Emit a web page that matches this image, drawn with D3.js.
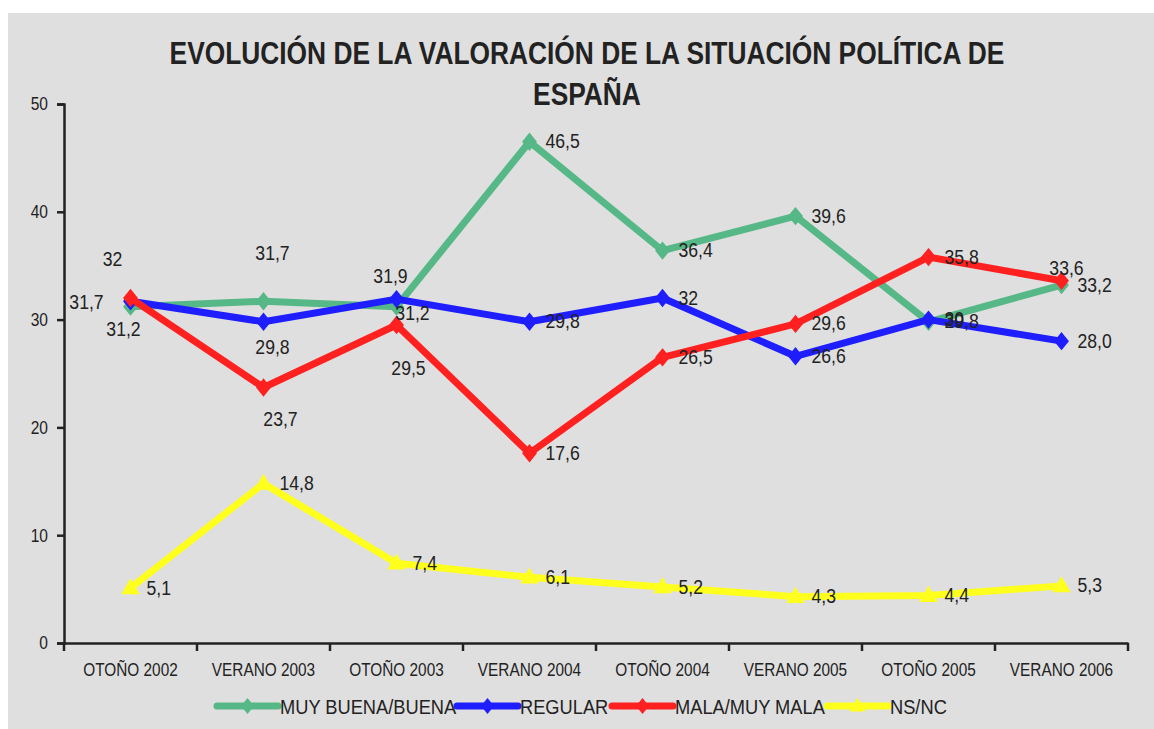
<!DOCTYPE html>
<html lang="es">
<head>
<meta charset="UTF-8">
<title>Evolución de la valoración de la situación política de España</title>
<script src="https://cdnjs.cloudflare.com/ajax/libs/d3/7.8.5/d3.min.js"></script>
<style>
  html, body { margin: 0; padding: 0; background: #fff; }
  svg { display: block; }
  text { font-family: 'Liberation Sans', Arial, sans-serif; fill: #222; }
</style>
</head>
<body>
<svg id="chart" width="1154" height="729"></svg>
<script>
// datos (tal como se imprimen las etiquetas)
const categories = ['OTOÑO 2002', 'VERANO 2003', 'OTOÑO 2003', 'VERANO 2004',
                    'OTOÑO 2004', 'VERANO 2005', 'OTOÑO 2005', 'VERANO 2006'];
const muyBuenaBuena = ['31,2', '31,7', '31,2', '46,5', '36,4', '39,6', '29,8', '33,2'];
const regular       = ['31,7', '29,8', '31,9', '29,8', '32',   '26,6', '30',   '28,0'];
const malaMuyMala   = ['32',   '23,7', '29,5', '17,6', '26,5', '29,6', '35,8', '33,6'];
const nsnc          = ['5,1',  '14,8', '7,4',  '6,1',  '5,2',  '4,3',  '4,4',  '5,3'];
const seriesNames = ['MUY BUENA/BUENA', 'REGULAR', 'MALA/MUY MALA', 'NS/NC'];
const yTicks = [0, 10, 20, 30, 40, 50];

// etiquetas movidas a mano en el original: [serie, punto, dx, dy] (centro del texto)
const labelMoves = [
  [0, 0, -7, 22], [0, 1, 9, -49], [0, 2, 16, 6],
  [1, 0, -44, 0], [1, 1, 9, 25], [1, 2, -6, -24],
  [2, 0, -18, -40], [2, 1, 17, 31], [2, 2, 12, 42], [2, 7, 5, -13]
];

const colors = ['#55b886', '#1e1eff', '#ff2020', '#ffff1e'];
const toNum = s => +s.replace(',', '.');

// la fuente original es estrecha (tipo Arial Narrow), no esta instalada: comprimir en horizontal
function squeeze(sel, sx) {
  sel.each(function () {
    const t = d3.select(this);
    const tx = +t.attr('x') || 0, ty = +t.attr('y') || 0;
    t.attr('transform', 'translate(' + tx + ',' + ty + ') scale(' + sx + ',1)')
      .attr('x', 0).attr('y', 0);
  });
}

const series = [muyBuenaBuena, regular, malaMuyMala, nsnc].map((vals, i) => ({
  name: seriesNames[i],
  color: colors[i],
  triangle: i === 3,
  points: vals.map((s, j) => ({ cat: categories[j], label: s, value: toNum(s), i: j }))
}));

const svg = d3.select('#chart');

// fondo gris
svg.append('rect').attr('x', 8).attr('y', 13).attr('width', 1146).attr('height', 716).attr('fill', '#dfdfdf');

// titulo
svg.selectAll('.title')
  .data(['EVOLUCIÓN DE LA VALORACIÓN DE LA SITUACIÓN POLÍTICA DE', 'ESPAÑA'])
  .enter().append('text')
  .attr('class', 'title')
  .attr('text-anchor', 'middle')
  .attr('x', 587)
  .attr('y', (d, i) => 64 + i * 41)
  .style('font-weight', 'bold')
  .style('font-size', '31px')
  .text(d => d)
  .call(squeeze, 0.85);

const x = d3.scaleBand().domain(categories).range([64, 1128]);
const y = d3.scaleLinear().domain([0, 50]).range([643, 104]);
const cx = c => x(c) + x.bandwidth() / 2;

// eje y
const yAxis = svg.append('g')
  .attr('transform', 'translate(64,0)')
  .call(d3.axisLeft(y).tickValues(yTicks).tickSize(7).tickPadding(9).tickFormat(d3.format('d')));
yAxis.selectAll('text').style('font-size', '18.5px').call(squeeze, 0.84);

// eje x con marcas en los limites de categoria
const xAxis = svg.append('g')
  .attr('transform', 'translate(0,643)')
  .call(d3.axisBottom(x).tickSize(0).tickPadding(20));
xAxis.selectAll('text').style('font-size', '18.5px').call(squeeze, 0.83);
xAxis.selectAll('.bound')
  .data(d3.range(categories.length + 1))
  .enter().append('line')
  .attr('class', 'bound')
  .attr('x1', i => 64 + i * x.bandwidth())
  .attr('x2', i => 64 + i * x.bandwidth())
  .attr('y1', 0).attr('y2', 8)
  .attr('stroke', '#222').attr('stroke-width', 2.5);

svg.selectAll('.domain').attr('stroke', '#222').attr('stroke-width', 2.5);
yAxis.selectAll('.tick line').attr('stroke', '#222').attr('stroke-width', 2.5);

// lineas
const line = d3.line().x(d => cx(d.cat)).y(d => y(d.value));
const diamond = 'M0,-8L6.5,0L0,8L-6.5,0Z';
const triangle = d3.symbol().type(d3.symbolTriangle).size(110)();

const g = svg.selectAll('.serie')
  .data(series)
  .enter().append('g')
  .attr('class', 'serie');

g.append('path')
  .attr('d', d => line(d.points))
  .attr('fill', 'none')
  .attr('stroke', d => d.color)
  .attr('stroke-width', 7)
  .attr('stroke-linejoin', 'round');

g.each(function (s) {
  d3.select(this).selectAll('.mk')
    .data(s.points)
    .enter().append('path')
    .attr('class', 'mk')
    .attr('transform', d => 'translate(' + cx(d.cat) + ',' + (y(d.value) + (s.triangle ? 1 : 0)) + ')')
    .attr('d', s.triangle ? triangle : diamond)
    .attr('fill', s.color)
    .attr('stroke', s.color)
    .attr('stroke-width', 1.5);
});

// etiquetas de datos
series.forEach((s, si) => {
  svg.append('g').selectAll('text')
    .data(s.points)
    .enter().append('text')
    .style('font-size', '21px')
    .attr('dy', '0.36em')
    .each(function (d) {
      const mv = labelMoves.find(m => m[0] === si && m[1] === d.i);
      const t = d3.select(this);
      if (mv) {
        t.attr('text-anchor', 'middle').attr('x', cx(d.cat) + mv[2]).attr('y', y(d.value) + mv[3]);
      } else {
        t.attr('text-anchor', 'start').attr('x', cx(d.cat) + 16).attr('y', y(d.value) - 1);
      }
    })
    .text(d => d.label)
    .call(squeeze, 0.84);
});

// leyenda
const legendX = [217, 457, 612, 827];
const lg = svg.append('g').selectAll('g')
  .data(series)
  .enter().append('g')
  .attr('transform', (d, i) => 'translate(' + legendX[i] + ',706)');
lg.append('line')
  .attr('x1', 0).attr('x2', 61)
  .attr('stroke', d => d.color).attr('stroke-width', 7).attr('stroke-linecap', 'round');
lg.append('path')
  .attr('transform', d => 'translate(30.5,' + (d.triangle ? 1 : 0) + ')')
  .attr('d', d => d.triangle ? triangle : diamond)
  .attr('fill', d => d.color);
lg.append('text')
  .attr('x', 63).attr('dy', '0.36em')
  .style('font-size', '21px')
  .text(d => d.name)
  .call(squeeze, 0.87);
</script>
</body>
</html>
